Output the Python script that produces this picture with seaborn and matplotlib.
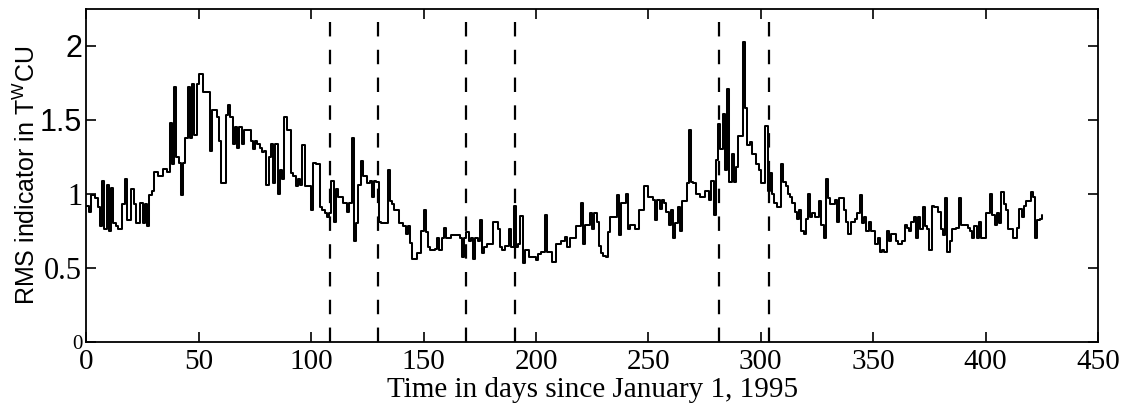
import matplotlib
matplotlib.use("Agg")
import matplotlib.pyplot as plt
import pandas as pd
import seaborn as sns

# Daily RMS indicator values, day 0 = January 1, 1995
rms_values = [
    0.92, 0.88, 0.99, 0.99, 0.97, 0.91, 0.78, 1.09, 0.76, 1.06,
    0.75, 1.04, 0.80, 0.78, 0.76, 0.76, 0.93, 1.10, 0.82, 0.82,
    1.03, 0.93, 0.80, 0.80, 0.94, 0.80, 0.93, 0.78, 0.99, 1.02,
    1.15, 1.15, 1.12, 1.12, 1.17, 1.17, 1.15, 1.48, 1.20, 1.72,
    1.25, 1.21, 0.99, 1.21, 1.38, 1.72, 1.38, 1.74, 1.40, 1.74,
    1.81, 1.81, 1.69, 1.69, 1.69, 1.29, 1.57, 1.57, 1.52, 1.36,
    1.07, 1.07, 1.53, 1.60, 1.52, 1.34, 1.45, 1.31, 1.45, 1.34,
    1.43, 1.43, 1.43, 1.36, 1.30, 1.36, 1.34, 1.31, 1.28, 1.29,
    1.06, 1.25, 1.34, 1.07, 1.34, 1.00, 1.16, 1.10, 1.52, 1.43,
    1.43, 1.14, 1.12, 1.05, 1.10, 1.06, 1.33, 1.05, 1.05, 1.05,
    0.89, 1.21, 1.20, 1.20, 0.91, 0.89, 0.87, 0.84, 0.87, 1.09,
    0.81, 1.03, 0.98, 0.98, 0.94, 0.94, 0.88, 0.94, 1.38, 0.68,
    0.80, 1.06, 1.22, 1.12, 1.12, 1.07, 1.09, 0.98, 1.09, 1.08,
    0.81, 0.80, 0.80, 0.80, 1.16, 0.95, 0.93, 0.89, 0.89, 0.80,
    0.80, 0.78, 0.73, 0.78, 0.67, 0.56, 0.56, 0.60, 0.60, 0.75,
    0.89, 0.74, 0.64, 0.62, 0.62, 0.63, 0.70, 0.62, 0.70, 0.77,
    0.70, 0.70, 0.72, 0.72, 0.72, 0.72, 0.70, 0.57, 0.70, 0.74,
    0.68, 0.70, 0.56, 0.70, 0.68, 0.82, 0.60, 0.64, 0.66, 0.66,
    0.66, 0.81, 0.81, 0.76, 0.64, 0.62, 0.65, 0.65, 0.76, 0.64,
    0.92, 0.64, 0.66, 0.85, 0.53, 0.62, 0.62, 0.57, 0.57, 0.57,
    0.55, 0.59, 0.61, 0.61, 0.86, 0.61, 0.61, 0.54, 0.54, 0.66,
    0.66, 0.68, 0.68, 0.71, 0.64, 0.70, 0.70, 0.70, 0.78, 0.78,
    0.94, 0.66, 0.79, 0.79, 0.87, 0.76, 0.87, 0.81, 0.65, 0.60,
    0.58, 0.57, 0.74, 0.84, 0.84, 0.84, 0.99, 0.72, 0.94, 0.94,
    1.00, 0.76, 0.79, 0.79, 0.76, 0.76, 0.89, 0.89, 1.05, 1.05,
    0.98, 0.98, 0.96, 0.82, 0.96, 0.90, 0.96, 0.94, 0.88, 0.79,
    0.89, 0.70, 0.80, 0.91, 0.75, 0.95, 0.95, 1.07, 1.43, 1.08,
    1.07, 1.00, 1.00, 0.98, 0.98, 1.02, 1.02, 0.96, 1.09, 0.86,
    1.23, 1.47, 1.30, 1.54, 1.16, 1.71, 1.08, 1.27, 1.08, 1.18,
    1.39, 1.39, 2.03, 1.58, 1.33, 1.35, 1.27, 1.27, 1.20, 1.16,
    1.07, 1.07, 1.46, 1.02, 1.14, 1.00, 0.94, 0.91, 0.91, 1.20,
    1.08, 1.05, 1.00, 0.98, 0.94, 0.88, 0.83, 0.89, 0.75, 0.73,
    0.83, 1.00, 0.84, 0.87, 0.84, 0.84, 0.95, 0.79, 0.70, 1.10,
    0.97, 0.93, 0.93, 0.96, 0.81, 0.97, 0.97, 0.89, 0.81, 0.73,
    0.81, 0.81, 0.83, 0.87, 0.99, 0.80, 0.84, 0.75, 0.81, 0.75,
    0.75, 0.66, 0.70, 0.61, 0.62, 0.61, 0.75, 0.68, 0.73, 0.73,
    0.68, 0.66, 0.66, 0.68, 0.79, 0.77, 0.75, 0.81, 0.84, 0.70,
    0.84, 0.76, 0.91, 0.78, 0.76, 0.62, 0.92, 0.91, 0.91, 0.88,
    0.76, 0.72, 0.97, 0.61, 0.68, 0.76, 0.76, 0.77, 0.97, 0.79,
    0.79, 0.79, 0.77, 0.75, 0.70, 0.78, 0.70, 0.81, 0.70, 0.70,
    0.87, 0.87, 1.00, 0.86, 0.79, 0.87, 0.80, 1.01, 0.93, 0.89,
    0.76, 0.76, 0.70, 0.70, 0.77, 0.90, 0.84, 0.92, 0.95, 0.95,
    1.01, 0.98, 0.70, 0.82, 0.83, 0.86,
]
days = list(range(len(rms_values)))

# Boundaries of the marked periods (days)
event_days = [108.5, 129.7, 168.7, 190.5, 281.2, 303.5]

x_ticks = [0, 50, 100, 150, 200, 250, 300, 350, 400, 450]
y_ticks = [0, 0.5, 1, 1.5, 2]
y_tick_labels = ["0", "0.5", "1", "1.5", "2"]
y_tick_families = ["Liberation Serif", "Liberation Serif", "Liberation Serif",
                   "Liberation Sans", "Liberation Sans"]
y_tick_sizes = [15, 22, 22, 22, 22]

sns.set_theme(style="ticks")
plt.rcParams["font.family"] = ["Liberation Serif", "DejaVu Serif"]
plt.rcParams["mathtext.fontset"] = "custom"
plt.rcParams["mathtext.rm"] = "Liberation Sans"
for key in ["text.color", "axes.labelcolor", "xtick.color", "ytick.color",
            "axes.edgecolor"]:
    plt.rcParams[key] = "black"

fig = plt.figure(figsize=(11.23, 4.08), dpi=100)
ax = fig.add_axes([0.0770, 0.1625, 0.9007, 0.8154])

df = pd.DataFrame({"day": days, "rms": rms_values})
sns.lineplot(data=df, x="day", y="rms", ax=ax, estimator=None,
             drawstyle="steps-post", color="black", linewidth=1.45)

for d in event_days:
    ax.axvline(d, color="black", linewidth=1.6, linestyle=(0, (6.5, 6.0)))

ax.set_xlim(0, 450)
ax.set_ylim(0, 2.25)

ax.set_xticks(x_ticks)
ax.set_xticklabels([str(t) for t in x_ticks], fontsize=21,
                   family="Liberation Serif")
ax.set_yticks(y_ticks)
ax.set_yticklabels(y_tick_labels)
for lab, fam, size in zip(ax.get_yticklabels(), y_tick_families, y_tick_sizes):
    lab.set_fontfamily(fam)
    lab.set_fontsize(size)

ax.tick_params(axis="both", direction="in", length=7, width=1.2,
               top=True, right=True, colors="black")
ax.tick_params(axis="x", pad=5)
ax.tick_params(axis="y", pad=3)

for side in ["left", "right", "top", "bottom"]:
    ax.spines[side].set_visible(True)
    ax.spines[side].set_color("black")
    ax.spines[side].set_linewidth(1.3)

ax.set_xlabel("Time in days since January 1, 1995", fontsize=21,
              family="Liberation Serif")
ax.xaxis.set_label_coords(0.5, -0.105)
ax.set_ylabel(r"RMS indicator in T$^{\mathrm{W}}$CU", fontsize=18,
              family="Liberation Sans")
ax.yaxis.set_label_coords(-0.046, 0.5)

fig.savefig("out.png", dpi=100, facecolor="white")
